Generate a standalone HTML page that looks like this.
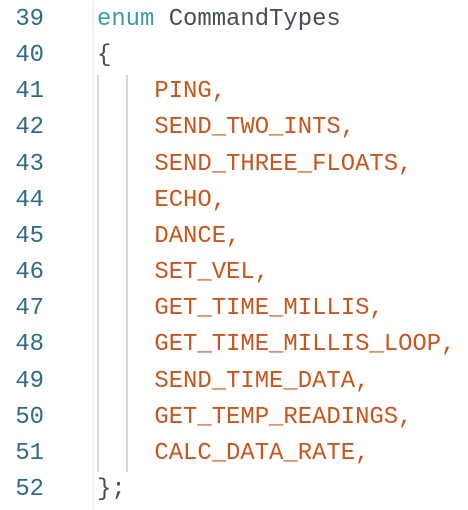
<!DOCTYPE html>
<html><head><style>
body{margin:0;width:468px;height:510px;background:#fff;position:relative;overflow:hidden;font-family:"Liberation Mono",monospace;font-size:23.9px}
.ln{position:absolute;left:0;width:44px;text-align:right;color:#2e6b85}
.c{position:absolute;left:97px;white-space:pre;color:#434f54}
.k{color:#3a9ea5}.o{color:#c7561e}
.g{position:absolute;background:#d8d8d8;width:2px}
</style></head><body>
<div style="position:absolute;left:92px;top:0;width:2px;height:510px;background:#f2f2f2"></div>
<div class="g" style="left:97px;top:75px;height:397px"></div>
<div class="g" style="left:126px;top:75px;height:397px"></div>
<div id="c"></div>
<script>
var L=[["39",'<span class="k">enum</span> CommandTypes'],["40","{"],
["41",'    <span class="o">PING,</span>'],["42",'    <span class="o">SEND_TWO_INTS,</span>'],["43",'    <span class="o">SEND_THREE_FLOATS,</span>'],["44",'    <span class="o">ECHO,</span>'],["45",'    <span class="o">DANCE,</span>'],["46",'    <span class="o">SET_VEL,</span>'],["47",'    <span class="o">GET_TIME_MILLIS,</span>'],["48",'    <span class="o">GET_TIME_MILLIS_LOOP,</span>'],["49",'    <span class="o">SEND_TIME_DATA,</span>'],["50",'    <span class="o">GET_TEMP_READINGS,</span>'],["51",'    <span class="o">CALC_DATA_RATE,</span>'],["52","};"]];
var h="";L.forEach(function(l,i){var t=(2+i*36.15).toFixed(1);h+='<div class="ln" style="top:'+t+'px;line-height:36px">'+l[0]+'</div><div class="c" style="top:'+t+'px;line-height:36px">'+l[1]+'</div>';});
document.getElementById("c").innerHTML=h;
</script>
</body></html>
